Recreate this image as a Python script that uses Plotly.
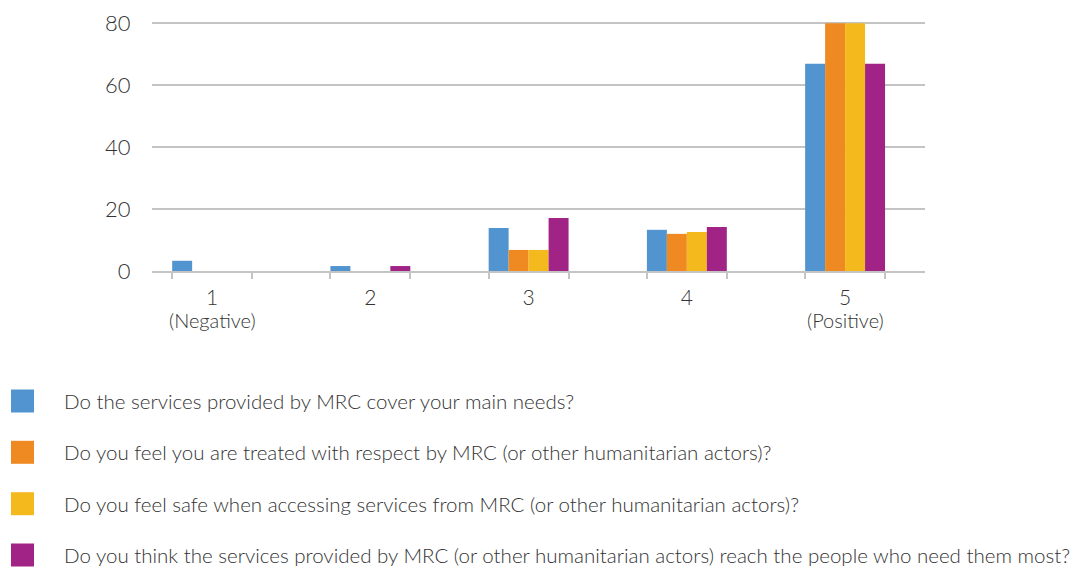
import plotly.graph_objects as go

# Survey scale and response shares (%)
categories = [1, 2, 3, 4, 5]
category_labels = ["1", "2", "3", "4", "5"]
scale_ends = {1: "(Negative)", 5: "(Positive)"}
questions = [
    "Do the services provided by MRC cover your main needs?",
    "Do you feel you are treated with respect by MRC (or other humanitarian actors)?",
    "Do you feel safe when accessing services from MRC (or other humanitarian actors)?",
    "Do you think the services provided by MRC (or other humanitarian actors) reach the people who need them most?",
]
needs_covered = [3.3, 1.6, 13.9, 13.3, 66.9]
treated_with_respect = [0, 0, 6.8, 12.0, 80.0]
feel_safe = [0, 0, 6.8, 12.6, 80.0]
reach_most_in_need = [0, 1.6, 17.1, 14.2, 66.9]
series = [needs_covered, treated_with_respect, feel_safe, reach_most_in_need]
colors = ["#5294CF", "#EF8A22", "#F4B91C", "#A02385"]
y_ticks = [0, 20, 40, 60, 80]

W, H = 1074, 569
L, R, T, B = 152, 149, 22, 298
PW, PH = W - L - R, H - T - B


def px_x(px):
    return (px - L) / PW


def px_y(py):
    return (H - B - py) / PH


font_family = "Lato, 'Noto Sans', sans-serif"
text_color = "#333333"
grid_color = "#C4C4C4"

fig = go.Figure()
for name, vals, col in zip(questions, series, colors):
    fig.add_trace(go.Bar(x=categories, y=vals, name=name, marker_color=col,
                         marker_line_width=0, showlegend=False))

# Group-edge tick marks
edges = []
for c in categories:
    edges += [c - 0.2527, c + 0.2527]

fig.update_layout(
    width=W, height=H,
    margin=dict(l=L, r=R, t=T, b=B, autoexpand=False),
    paper_bgcolor="white", plot_bgcolor="white",
    barmode="group", bargap=0.495, bargroupgap=0,
    font=dict(family=font_family, size=20, color=text_color, weight=300),
    xaxis=dict(
        range=[0.62, 5.505], tickmode="array", tickvals=categories,
        ticktext=category_labels, ticks="outside", ticklen=7,
        tickcolor="rgba(0,0,0,0)", showgrid=False, zeroline=False,
        showline=True, linecolor=grid_color, linewidth=2,
        tickfont=dict(size=21, color=text_color, weight=300),
        minor=dict(tickmode="array", tickvals=edges, ticks="outside",
                   ticklen=6, tickwidth=2, tickcolor=grid_color, showgrid=False),
    ),
    yaxis=dict(
        range=[0, 80.4], tickmode="array", tickvals=y_ticks,
        ticks="outside", ticklen=16, tickcolor="rgba(0,0,0,0)",
        showgrid=True, gridcolor=grid_color, gridwidth=1.5,
        zeroline=False, showline=False,
        tickfont=dict(size=22, color=text_color, weight=300),
    ),
)

# Sub-labels under the ends of the scale
for cat, txt in scale_ends.items():
    fig.add_annotation(xref="x", yref="paper", x=cat, y=px_y(320),
                       xanchor="center", yanchor="middle", text=txt,
                       showarrow=False,
                       font=dict(size=20, color=text_color, family=font_family,
                                 weight=300))

# Legend: colour squares with question text
row_centres = [401, 452.3, 503.7, 555]
for q, col, cy in zip(questions, colors, row_centres):
    fig.add_shape(type="rect", xref="paper", yref="paper",
                  x0=px_x(11), x1=px_x(34), y0=px_y(cy + 11.5), y1=px_y(cy - 11.5),
                  fillcolor=col, line_width=0)
    fig.add_annotation(xref="paper", yref="paper", x=px_x(62), y=px_y(cy),
                       xanchor="left", yanchor="middle", text=q, showarrow=False,
                       font=dict(size=20.5, color=text_color, family=font_family,
                                 weight=300))

fig.write_html("out.html")
